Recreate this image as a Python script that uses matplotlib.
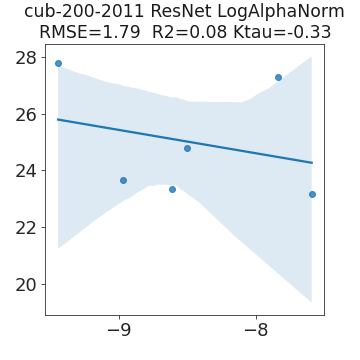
import matplotlib
matplotlib.use('Agg')
import matplotlib.pyplot as plt
import seaborn as sns
import numpy as np

# log alpha norm vs accuracy, one point per model
log_alpha_norm = [-9.441, -8.968, -8.610, -8.500, -7.836, -7.593]
accuracy = [27.81, 23.66, 23.35, 24.79, 27.29, 23.18]

title = "cub-200-2011 ResNet LogAlphaNorm\nRMSE=1.79  R2=0.08 Ktau=-0.33"

plt.rcParams['axes.edgecolor'] = '.15'
plt.rcParams['xtick.color'] = '.15'
plt.rcParams['ytick.color'] = '.15'
plt.rcParams['text.color'] = '.1'

fig = plt.figure(figsize=(5, 5), dpi=72)
ax = fig.add_axes([0.126, 0.125, 0.775, 0.753])
sns.regplot(x=np.array(log_alpha_norm), y=np.array(accuracy), ax=ax, seed=3)
ax.set_title(title, fontsize=17.3)
ax.tick_params(labelsize=18, length=4)
ax.set_yticks([20, 22, 24, 26, 28])
ax.set_xticks([-9, -8])
fig.savefig('out.png', dpi=72)
